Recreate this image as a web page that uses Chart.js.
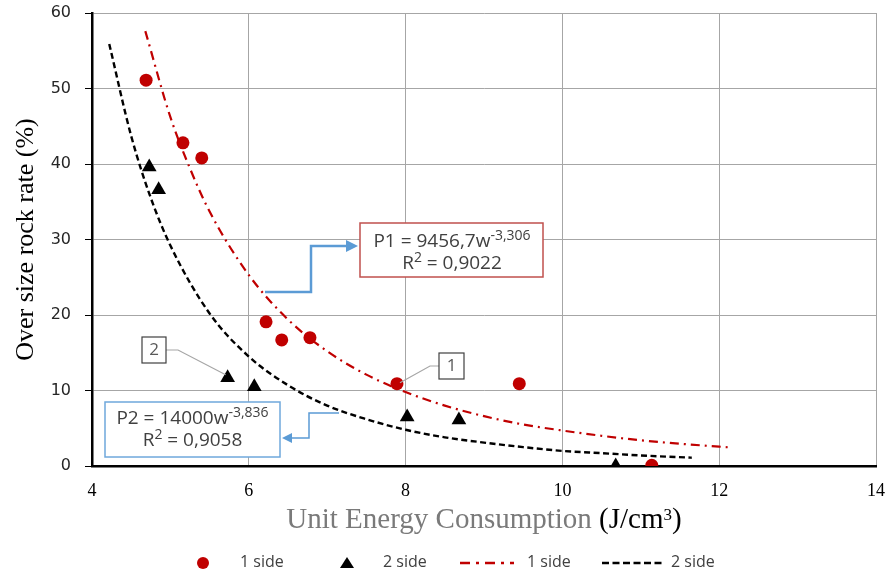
<!DOCTYPE html>
<html>
<head>
<meta charset="utf-8">
<script src="https://cdn.jsdelivr.net/npm/chart.js@4.4.1/dist/chart.umd.min.js"></script>
<style>
html, body { margin: 0; padding: 0; background: #fff; }
#wrap { width: 890px; height: 574px; }
</style>
</head>
<body>
<div id="wrap"><canvas id="c" width="890" height="574"></canvas></div>
<script>
// tick labels
const xTicks = [4, 6, 8, 10, 12, 14];
const yTicks = [0, 10, 20, 30, 40, 50, 60];

// measured points
const side1X = [4.69, 5.16, 5.40, 6.22, 6.42, 6.78, 7.89, 9.45, 11.14];
const side1Y = [51.1, 42.8, 40.8, 19.1, 16.7, 17.0, 10.9, 10.9, 0.1];
const side2X = [4.73, 4.85, 5.73, 6.07, 8.02, 8.68, 10.68];
const side2Y = [39.6, 36.6, 11.7, 10.5, 6.5, 6.1, 0.0];

// power trend lines
const fit1X = [4.68, 5.0, 5.25, 5.5, 6.0, 6.5, 7.0, 7.5, 8.0, 8.5, 9.0, 9.5, 10.0, 10.5, 11.0, 11.5, 12.0, 12.16];
const fit1Y = [57.6, 46.2, 39.4, 33.7, 25.3, 19.4, 15.2, 12.1, 9.8, 8.0, 6.6, 5.5, 4.7, 4.0, 3.4, 2.95, 2.56, 2.45];
const fit2X = [4.22, 4.5, 4.75, 5.0, 5.5, 6.0, 6.5, 7.0, 7.5, 8.0, 8.5, 9.0, 9.5, 10.0, 10.5, 11.0, 11.65];
const fit2Y = [55.9, 43.7, 35.5, 29.2, 20.2, 14.5, 10.7, 8.0, 6.2, 4.8, 3.8, 3.1, 2.5, 2.0, 1.7, 1.4, 1.1];

const seriesNames = ['1 side', '2 side', '1 side', '2 side'];

const RED = '#c00000';
const BLUE = '#5b9bd5';
const DASHDOT = [9, 5, 2, 5];
const DASHED = [6, 3.5];
const BOXFONT = '"Open Sans"';

function pts(xs, ys) {
    return xs.map((v, i) => ({ x: v, y: ys[i] }));
}

function arrowHead(ctx, tx, ty, dir, len, half) {
    ctx.beginPath();
    ctx.moveTo(tx, ty);
    ctx.lineTo(tx - dir * len, ty - half);
    ctx.lineTo(tx - dir * len, ty + half);
    ctx.closePath();
    ctx.fill();
}

// text run with a raised small part, centred on cx
function supText(ctx, cx, cy, parts, size) {
    const small = Math.round(size * 0.72);
    let total = 0;
    parts.forEach(p => {
        ctx.font = (p.sup ? small : size) + 'px ' + BOXFONT;
        p.w = ctx.measureText(p.t).width;
        total += p.w;
    });
    let x = cx - total / 2;
    ctx.textAlign = 'left';
    ctx.textBaseline = 'middle';
    parts.forEach(p => {
        ctx.font = (p.sup ? small : size) + 'px ' + BOXFONT;
        ctx.fillText(p.t, x, p.sup ? cy - size * 0.33 : cy);
        x += p.w;
    });
}

const overlay = {
    id: 'overlay',
    afterDraw(chart) {
        const ctx = chart.ctx;
        const sx = chart.scales.x, sy = chart.scales.y;
        ctx.save();

        // y title
        ctx.save();
        ctx.translate(26, (chart.chartArea.top + chart.chartArea.bottom) / 2);
        ctx.rotate(-Math.PI / 2);
        ctx.font = '26px "Liberation Serif"';
        ctx.fillStyle = '#000';
        ctx.textAlign = 'center';
        ctx.textBaseline = 'middle';
        ctx.fillText('Over size rock rate (%)', 0, 0);
        ctx.restore();

        // x title, two colours
        const cx = (chart.chartArea.left + chart.chartArea.right) / 2;
        ctx.font = '29px "Liberation Serif"';
        const a = 'Unit Energy Consumption ', b = '(J/cm', c = ')';
        const wa = ctx.measureText(a).width, wb = ctx.measureText(b).width, wc = ctx.measureText(c).width;
        ctx.font = '17px "Liberation Serif"';
        const w3 = ctx.measureText('3').width;
        let x0 = cx - (wa + wb + w3 + wc) / 2;
        const base = 528;
        ctx.textAlign = 'left';
        ctx.textBaseline = 'alphabetic';
        ctx.font = '29px "Liberation Serif"';
        ctx.fillStyle = '#7a7a7a';
        ctx.fillText(a, x0, base);
        ctx.fillStyle = '#000';
        ctx.fillText(b, x0 + wa, base);
        ctx.font = '17px "Liberation Serif"';
        ctx.fillText('3', x0 + wa + wb, base - 8);
        ctx.font = '29px "Liberation Serif"';
        ctx.fillText(c, x0 + wa + wb + w3, base);

        // legend
        const ly = 563;
        ctx.textBaseline = 'middle';
        ctx.fillStyle = RED;
        ctx.beginPath(); ctx.arc(203, ly, 6, 0, Math.PI * 2); ctx.fill();
        ctx.fillStyle = '#000';
        ctx.beginPath(); ctx.moveTo(347, ly - 6); ctx.lineTo(354, ly + 5); ctx.lineTo(340, ly + 5); ctx.closePath(); ctx.fill();
        ctx.lineWidth = 2.5;
        ctx.strokeStyle = RED; ctx.setLineDash([10, 6, 3, 6]);
        ctx.beginPath(); ctx.moveTo(460, ly); ctx.lineTo(514, ly); ctx.stroke();
        ctx.strokeStyle = '#000'; ctx.setLineDash([7, 3.5]);
        ctx.beginPath(); ctx.moveTo(602, ly); ctx.lineTo(664, ly); ctx.stroke();
        ctx.setLineDash([]);
        ctx.font = '16px "Open Sans"';
        ctx.fillStyle = '#404040';
        ctx.textAlign = 'left';
        [240, 383, 527, 671].forEach((lx, i) => ctx.fillText(seriesNames[i], lx, ly - 1));

        // numbered labels with leader lines
        const p1 = { x: sx.getPixelForValue(side1X[6]), y: sy.getPixelForValue(side1Y[6]) };
        const p2 = { x: sx.getPixelForValue(side2X[2]), y: sy.getPixelForValue(side2Y[2]) };
        ctx.strokeStyle = '#a6a6a6'; ctx.lineWidth = 1.2;
        ctx.beginPath(); ctx.moveTo(166, 350); ctx.lineTo(178, 350); ctx.lineTo(p2.x - 2, p2.y - 3); ctx.stroke();
        ctx.beginPath(); ctx.moveTo(439, 366); ctx.lineTo(430, 366); ctx.lineTo(p1.x + 3, p1.y - 1); ctx.stroke();
        ctx.fillStyle = '#fff'; ctx.strokeStyle = '#404040'; ctx.lineWidth = 1.2;
        ctx.fillRect(142, 337, 24, 26); ctx.strokeRect(142, 337, 24, 26);
        ctx.fillRect(439, 353, 25, 26); ctx.strokeRect(439, 353, 25, 26);
        ctx.fillStyle = '#595959'; ctx.font = '17px "Open Sans"'; ctx.textAlign = 'center';
        ctx.fillText('2', 154, 350);
        ctx.fillText('1', 451.5, 366);

        // P1 equation box and arrow
        ctx.strokeStyle = BLUE; ctx.fillStyle = BLUE; ctx.lineWidth = 2.5;
        ctx.beginPath(); ctx.moveTo(265, 292); ctx.lineTo(311, 292); ctx.lineTo(311, 246); ctx.lineTo(348, 246); ctx.stroke();
        arrowHead(ctx, 358, 246, 1, 12, 6);
        ctx.fillStyle = '#fff'; ctx.strokeStyle = '#c0504d'; ctx.lineWidth = 1.5;
        ctx.fillRect(360, 223, 183, 54); ctx.strokeRect(360, 223, 183, 54);
        ctx.fillStyle = '#404040';
        supText(ctx, 452, 242, [{ t: 'P1 = 9456,7w' }, { t: '-3,306', sup: true }], 19);
        supText(ctx, 452, 264, [{ t: 'R' }, { t: '2', sup: true }, { t: ' = 0,9022' }], 19);

        // P2 equation box and arrow
        ctx.strokeStyle = BLUE; ctx.fillStyle = BLUE; ctx.lineWidth = 1.5;
        ctx.beginPath(); ctx.moveTo(339, 413); ctx.lineTo(309, 413); ctx.lineTo(309, 438); ctx.lineTo(291, 438); ctx.stroke();
        arrowHead(ctx, 282, 438, -1, 10, 5);
        ctx.fillStyle = '#fff'; ctx.strokeStyle = '#6fa8dc'; ctx.lineWidth = 1.5;
        ctx.fillRect(105, 402, 175, 55); ctx.strokeRect(105, 402, 175, 55);
        ctx.fillStyle = '#404040';
        supText(ctx, 192.5, 419, [{ t: 'P2 = 14000w' }, { t: '-3,836', sup: true }], 19);
        supText(ctx, 192.5, 441, [{ t: 'R' }, { t: '2', sup: true }, { t: ' = 0,9058' }], 19);
        ctx.restore();
    }
};

new Chart(document.getElementById('c'), {
    type: 'scatter',
    data: {
        datasets: [
            {
                label: seriesNames[0], data: pts(side1X, side1Y), order: 1,
                pointStyle: 'circle', pointRadius: 6.5, backgroundColor: RED, borderColor: RED, borderWidth: 0
            },
            {
                label: seriesNames[1], data: pts(side2X, side2Y), order: 2,
                pointStyle: 'triangle', pointRadius: 8.5, backgroundColor: '#000', borderColor: '#000', borderWidth: 0
            },
            {
                label: seriesNames[2], data: pts(fit1X, fit1Y), order: 3, showLine: true,
                pointRadius: 0, borderColor: RED, borderWidth: 2.2, borderDash: DASHDOT,
                cubicInterpolationMode: 'monotone'
            },
            {
                label: seriesNames[3], data: pts(fit2X, fit2Y), order: 4, showLine: true,
                pointRadius: 0, borderColor: '#000', borderWidth: 2.4, borderDash: DASHED,
                cubicInterpolationMode: 'monotone'
            }
        ]
    },
    options: {
        responsive: false,
        animation: false,
        devicePixelRatio: 1,
        layout: { padding: { left: 0, right: 14, top: 13, bottom: 0 } },
        plugins: { legend: { display: false }, tooltip: { enabled: false } },
        scales: {
            x: {
                type: 'linear',
                min: xTicks[0], max: xTicks[xTicks.length - 1],
                afterBuildTicks: s => { s.ticks = xTicks.map(v => ({ value: v })); },
                afterFit: s => { s.height = 108; s.paddingLeft = 0; s.paddingRight = 0; },
                grid: { color: '#a6a6a6', lineWidth: 1, tickLength: 4, tickColor: 'rgba(0,0,0,0)' },
                border: { color: '#000', width: 2.5 },
                ticks: { color: '#000', font: { family: 'Liberation Serif', size: 18 }, padding: 10, maxRotation: 0 }
            },
            y: {
                type: 'linear',
                min: yTicks[0], max: yTicks[yTicks.length - 1],
                afterBuildTicks: s => { s.ticks = yTicks.map(v => ({ value: v })); },
                afterFit: s => { s.width = 92; s.paddingTop = 0; s.paddingBottom = 0; },
                grid: { color: '#a6a6a6', lineWidth: 1, tickLength: 7, tickColor: '#000' },
                border: { color: '#000', width: 2.5 },
                ticks: { color: '#262626', font: { family: 'DejaVu Sans', size: 16 }, padding: 14 }
            }
        }
    },
    plugins: [overlay]
});
</script>
</body>
</html>
